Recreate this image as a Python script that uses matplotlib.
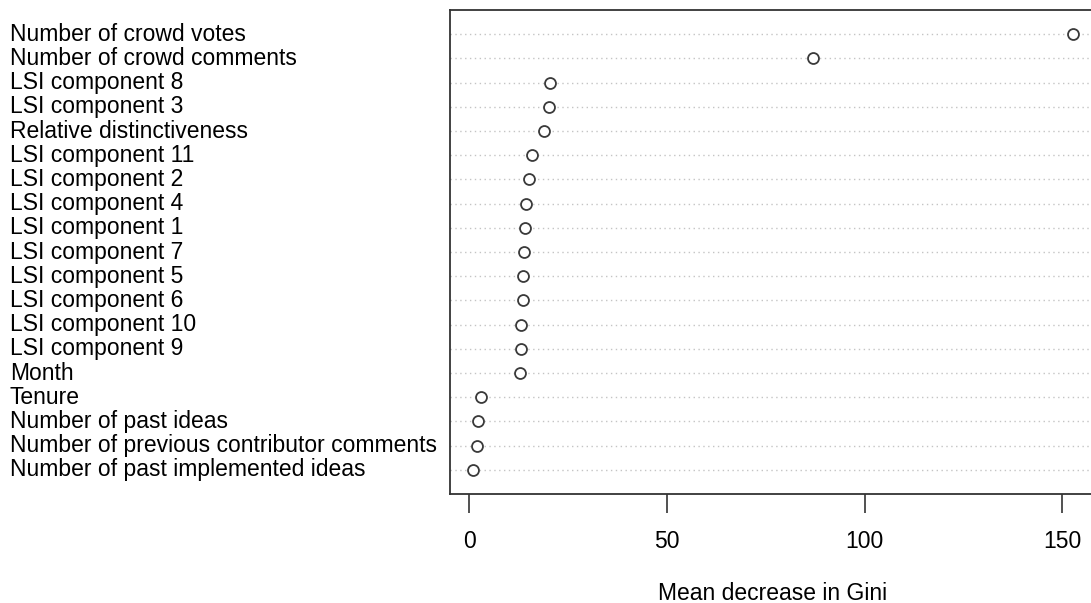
import matplotlib
matplotlib.use("Agg")
import matplotlib.pyplot as plt

labels = [
    "Number of crowd votes",
    "Number of crowd comments",
    "LSI component 8",
    "LSI component 3",
    "Relative distinctiveness",
    "LSI component 11",
    "LSI component 2",
    "LSI component 4",
    "LSI component 1",
    "LSI component 7",
    "LSI component 5",
    "LSI component 6",
    "LSI component 10",
    "LSI component 9",
    "Month",
    "Tenure",
    "Number of past ideas",
    "Number of previous contributor comments",
    "Number of past implemented ideas",
]
values = [152.7, 87.0, 20.5, 20.2, 18.9, 15.9, 15.1, 14.3, 14.1, 13.9, 13.7,
          13.6, 13.2, 13.0, 12.8, 3.1, 2.2, 1.9, 1.1]
xticks = [0, 50, 100, 150]
xlabel = "Mean decrease in Gini"

plt.rcParams['font.family'] = ['Liberation Sans', 'DejaVu Sans']
W, H = 1091, 603
fig = plt.figure(figsize=(W / 100, H / 100), dpi=100)
left, right, top, bottom = 449.5, 1097, 10, 494
ax = fig.add_axes([left / W, 1 - bottom / H, (right - left) / W, (bottom - top) / H])

FS = 16.5
n = len(values)
ys = list(range(n, 0, -1))
xmin, xmax = min(values), max(values)
pad = 0.04 * (xmax - xmin)
for y in ys:
    ax.axhline(y, color='#c4c4c4', lw=1.0, ls=(0, (1, 2.5)), zorder=1)
ax.scatter(values, ys, s=62, facecolors='white', edgecolors='#3a3a3a', linewidths=1.3, zorder=3)
ax.set_xlim(xmin - pad, xmax + pad)
ax.set_ylim(0, n + 1)
ax.set_yticks([])
ax.set_xticks(xticks)
ax.set_xticklabels([str(t) for t in xticks], fontsize=FS)
ax.tick_params(axis='x', length=14, width=1.2, color='#333333', pad=12)
for s in ax.spines.values():
    s.set_linewidth(1.3)
    s.set_color('#333333')

for y, lab in zip(ys, labels):
    yd = ax.transData.transform((0, y))[1]
    fig.text(10 / W, yd / H, lab, ha='left', va='center', fontsize=FS, color='black')

fig.text(773 / W, 1 - 593 / H, xlabel, ha='center', va='center', fontsize=FS)
fig.savefig("out.png", dpi=100)
